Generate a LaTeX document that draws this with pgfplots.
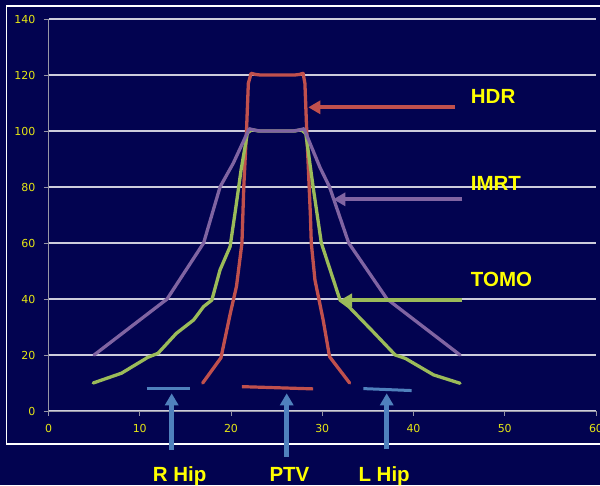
\documentclass[border=0pt]{standalone}
\usepackage{fontspec}
\setmainfont{Liberation Sans}
\newfontfamily\tickfont{DejaVu Sans}
\usepackage{pgfplots}
\pgfplotsset{compat=1.18}
\usetikzlibrary{arrows.meta}
\definecolor{bgnavy}{RGB}{2,3,80}
\definecolor{hdr}{RGB}{192,80,77}
\definecolor{imrt}{RGB}{128,100,162}
\definecolor{tomo}{RGB}{155,187,89}
\definecolor{hip}{RGB}{79,129,189}
\definecolor{gridcol}{RGB}{205,205,220}
\definecolor{axisgray}{RGB}{150,150,165}
\definecolor{tickyellow}{RGB}{230,230,20}
\definecolor{labyellow}{RGB}{255,255,0}
\begin{document}
\begin{tikzpicture}[x=1pt,y=1pt]
\useasboundingbox (0,0) rectangle (600,485);
\fill[bgnavy] (0,0) rectangle (600,485);
\draw[white, line width=1.5pt] (6.5,41) rectangle (620,479);
\begin{axis}[
  at={(48.5pt,74pt)}, anchor=south west,
  scale only axis, width=547.5pt, height=392pt,
  xmin=0, xmax=60, ymin=0, ymax=140,
  axis lines=left,
  axis line style={-, draw=axisgray, line width=1pt},
  xtick={0,10,...,60}, ytick={0,20,...,140},
  tick align=outside, major tick length=4.5pt,
  tick style={draw=axisgray, line width=0.9pt},
  ymajorgrids, grid style={draw=gridcol, line width=1.3pt},
  tick label style={font=\tickfont\fontsize{11}{12}\selectfont, text=tickyellow},
  yticklabel style={xshift=-5pt},
  xticklabel style={yshift=-5.5pt},
  /pgf/number format/assume math mode=true,
  clip=false,
]
\addplot[hdr, line width=3.3pt, line join=round, line cap=round] coordinates {
 (16.9,10.0) (18.9,19.0) (19.9,34.5) (20.6,44.5) (21.2,60) (21.4,80) (21.7,100) (21.9,117)
 (22.2,120.6) (22.7,120.2) (23.2,120) (27.0,120) (27.5,120.2) (27.9,120.6)
 (28.1,117) (28.3,100) (28.7,70) (28.8,60) (29.2,46.8) (30.1,32.5) (30.8,19.4) (33.0,10)
};
\addplot[tomo, line width=3.3pt, line join=round, line cap=round] coordinates {
 (4.9,10) (8.0,13.5) (10.9,19.2) (12.0,20.6) (14.0,27.7) (15.9,32.5) (17.0,37.3) (17.9,39.6)
 (18.8,50.4) (19.9,58.7) (20.5,72) (21.1,86) (21.8,99.3) (22.3,100.5) (23,100) (27,100)
 (27.7,100.5) (28.2,99) (29.0,80) (29.9,60) (31.95,39.6) (32.9,37.3) (35.4,28.9)
 (38.0,20) (39.1,18.8) (42.2,12.9) (45.1,9.9)
};
\addplot[imrt, line width=3.3pt, line join=round, line cap=round] coordinates {
 (5,20) (13,40) (17,60) (18.8,80) (20.25,88.5) (22.0,100.8) (22.6,100.3) (23.2,100)
 (26.8,100) (27.4,100.3) (28.0,100.8) (29.75,87) (30.8,80) (32.9,60) (37.1,40) (45.1,20)
};
\addplot[hip, line width=3pt] coordinates {(10.75,8.1) (15.5,8.1)};
\addplot[hip, line width=3pt] coordinates {(34.5,8.0) (39.8,7.3)};
\addplot[hdr, line width=3.2pt] coordinates {(21.2,8.7) (29.0,7.9)};
\end{axis}
\draw[hdr, line width=4.2pt, -{Triangle[length=12pt,width=13pt]}] (455,377.7) -- (308.3,377.7);
\draw[imrt, line width=4.2pt, -{Triangle[length=12pt,width=13pt]}] (462.3,285.7) -- (333.3,285.7);
\draw[tomo, line width=4.2pt, -{Triangle[length=12pt,width=13pt]}] (462.3,184.7) -- (340,184.7);
\draw[hip, line width=4.5pt, -{Triangle[length=12pt,width=13pt]}] (171.7,35) -- (171.7,91.7);
\draw[hip, line width=4.5pt, -{Triangle[length=12pt,width=13pt]}] (286.7,28.3) -- (286.7,91.7);
\draw[hip, line width=4.5pt, -{Triangle[length=12pt,width=13pt]}] (386.7,35.7) -- (386.7,91.7);
\begin{scope}[every node/.style={anchor=base west, inner sep=0pt, text=labyellow, font=\bfseries\fontsize{20.5}{24}\selectfont}]
\node at (470.7,381.7) {HDR};
\node at (470.7,294.3) {IMRT};
\node at (470.7,198.3) {TOMO};
\node at (152.7,3.3) {R Hip};
\node at (269.3,3.3) {PTV};
\node at (358.3,4) {L Hip};
\end{scope}
\end{tikzpicture}
\end{document}
